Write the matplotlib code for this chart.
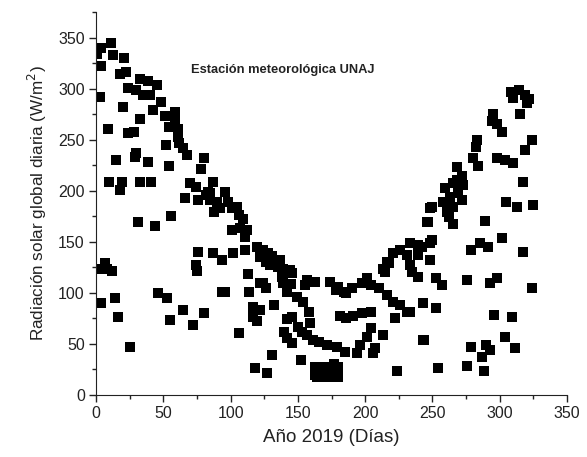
import matplotlib.pyplot as plt
from matplotlib.ticker import MultipleLocator

plt.rcParams['font.family'] = ['Liberation Sans', 'DejaVu Sans']

# dia del año y radiacion (W/m2)
dias = [1, 4, 11, 4, 13, 21, 18, 22, 33, 39, 45, 24, 30, 35, 40, 3, 48, 20, 42, 59,
        51, 33, 59, 9, 24, 28, 54, 61, 61, 52, 62, 65, 68, 80, 29, 30, 15, 39, 54, 78,
        10, 19, 18, 33, 41, 70, 74, 66, 76, 82, 85,
        56, 31, 44, 7, 8, 12, 4, 76, 87, 94, 74, 75, 94, 46, 53, 14, 4, 65, 80, 55,
        72, 16, 25,
        87, 83, 85, 90, 96, 92, 88, 98, 101, 105, 106, 109, 101, 107, 112, 111,
        102, 111, 120, 124, 128, 131, 122, 126, 137, 129, 135, 139, 144, 146, 138,
        157, 163, 139, 145, 155, 161, 142, 149, 154, 158, 113, 124, 114, 126, 132,
        117, 122, 117, 120, 142, 146, 150, 140, 142, 146, 153, 157, 161, 106, 96,
        131, 152, 118, 127, 163, 163, 122, 117, 159,
        174, 180, 184, 190, 198, 201, 204, 210, 213, 216, 221, 226, 231, 233, 239,
        216, 221, 226, 231, 222, 181, 186, 191, 198, 204, 204, 213, 201, 196, 207,
        206, 194, 185, 179, 172, 166, 224, 178, 186, 215, 218, 235, 242, 250, 246,
        248, 243, 243, 253, 254,
        164, 168, 175, 180, 164, 168, 175, 180, 171, 177,
        308, 314, 319, 310, 320, 315, 295, 294, 298, 302, 283, 282, 324, 319, 298,
        304, 310, 280, 284, 317, 268, 272, 268, 265, 273, 259, 269, 263, 272, 258,
        265, 261, 250, 305, 313, 325, 262, 247, 265, 289, 302, 317, 279, 285, 291,
        239, 248, 239, 248,
        233, 244, 279, 290, 293, 287, 276, 288, 304, 311, 296, 309, 324, 276, 293,
        298, 253, 257, 233, 239, 322]
radiacion = [334, 340, 345, 322, 333, 330, 314, 316, 309, 307, 304, 301, 299, 294, 294, 292, 287, 282, 279, 277,
             273, 270, 270, 260, 257, 258, 262, 260, 253, 245, 247, 242, 235, 232, 233, 237, 230, 228, 224, 221,
             209, 209, 201, 209, 209, 208, 204, 193, 191, 196, 198,
             175, 169, 165, 129, 123, 121, 123, 140, 139, 132, 127, 121, 101, 100, 95, 95, 90, 83, 80, 73,
             69, 76, 47,
             209, 199, 191, 189, 199, 183, 179, 189, 183, 184, 176, 172, 162, 164, 162, 155,
             139, 142, 145, 142, 139, 136, 135, 130, 132, 127, 125, 123, 122, 119, 116,
             113, 111, 110, 109, 108, 111, 101, 96, 91, 81, 118, 110, 101, 105, 88,
             86, 83, 80, 72, 74, 76, 67, 62, 56, 51, 62, 59, 54, 61, 101,
             39, 34, 26, 22, 27, 20, 110, 76, 70,
             111, 106, 101, 105, 110, 115, 108, 105, 123, 130, 139, 142, 137, 149, 145,
             98, 91, 88, 81, 75, 77, 75, 77, 80, 81, 66, 59, 57, 49, 46,
             41, 41, 42, 47, 49, 52, 23, 103, 100, 120, 129, 120, 145, 152, 169,
             183, 54, 90, 85, 26,
             27, 27, 27, 27, 18, 18, 18, 18, 22, 30,
             297, 299, 294, 291, 286, 275, 275, 268, 265, 258, 250, 243, 250, 240, 232,
             230, 227, 232, 224, 209, 223, 214, 211, 208, 206, 203, 198, 194, 191, 189,
             184, 179, 184, 189, 184, 186, 174, 169, 167, 170, 154, 140, 142, 149, 145,
             147, 149, 137, 132,
             81, 54, 47, 49, 44, 37, 28, 23, 57, 46, 78, 76, 105, 113, 110,
             115, 115, 108, 127, 116, 290]

fig = plt.figure(figsize=(5.87, 4.57), dpi=100)
ax = fig.add_axes([0.1635, 0.1357, 0.8025, 0.838])

ax.scatter(dias, radiacion, marker='s', s=42, color='black', linewidths=0)

ax.set_xlim(0, 350)
ax.set_ylim(0, 375)
ax.xaxis.set_major_locator(MultipleLocator(50))
ax.xaxis.set_minor_locator(MultipleLocator(25))
ax.yaxis.set_major_locator(MultipleLocator(50))
ax.yaxis.set_minor_locator(MultipleLocator(25))
ax.tick_params(which='major', direction='out', length=5, width=1, labelsize=11.5,
               colors='#222222', pad=3)
ax.tick_params(which='minor', direction='out', length=3, width=1, colors='#222222')

ax.spines['top'].set_visible(False)
ax.spines['right'].set_visible(False)
ax.spines['left'].set_color('#222222')
ax.spines['bottom'].set_color('#222222')

ax.set_xlabel('Año 2019 (Días)', fontsize=13.5, color='#222222', labelpad=6)
ax.set_ylabel('Radiación solar global diaria (W/m$^2$)', fontsize=12.3, color='#222222',
              labelpad=7)

ax.text(139, 318, 'Estación meteorológica UNAJ', fontsize=9.3, fontweight='bold',
        ha='center', va='center', color='#222222')

fig.savefig('out.png', dpi=100)
